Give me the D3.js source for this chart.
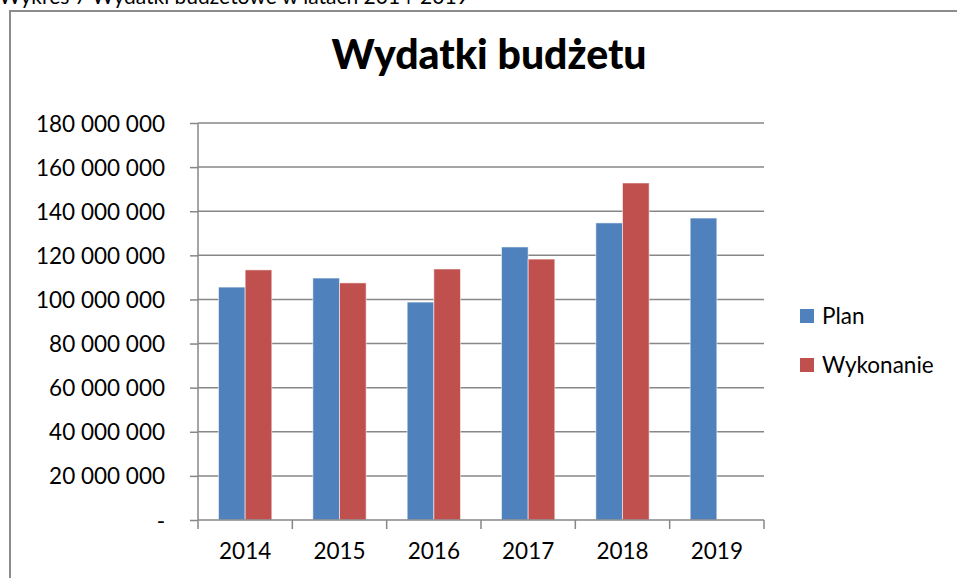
<!DOCTYPE html>
<html><head><meta charset="utf-8">
<script src="https://cdn.jsdelivr.net/npm/d3@7/dist/d3.min.js"></script>
<style>body{margin:0;background:#fff;}svg{display:block;font-family:Lato,"Open Sans",sans-serif;}</style>
</head><body>
<svg id="c" width="957" height="578"></svg>
<script>
const categories = ["2014","2015","2016","2017","2018","2019"];
const seriesNames = ["Plan","Wykonanie"];
const planValues = [105600000,109700000,98800000,123800000,134700000,136900000];
const wykonanieValues = [113400000,107500000,113800000,118300000,152800000,null];
const yTicks = [0,20000000,40000000,60000000,80000000,100000000,120000000,140000000,160000000,180000000];
const colors = ["#4F81BD","#C0504D"];

const svg = d3.select("#c");
const W = 957, H = 578;
const m = {left:198, right:957-764, top:123, bottom:578-520};

// caption (cut off at top, as in the reference)
svg.append("text").attr("x",-1).attr("y",4).attr("font-size",21).attr("fill","#000")
  .text("Wykres 7 Wydatki budżetowe w latach 2014-2019");
// frame
svg.append("rect").attr("x",10).attr("y",11).attr("width",1000).attr("height",700)
  .attr("fill","none").attr("stroke","#8c8c8c").attr("stroke-width",2);

const x = d3.scaleBand().domain(categories).range([m.left, W-m.right]).paddingInner(0).paddingOuter(0);
const x1 = d3.scaleBand().domain(seriesNames).range([0, x.bandwidth()]).paddingInner(0).paddingOuter(0.77);
const y = d3.scaleLinear().domain([0,180000000]).range([H-m.bottom, m.top]);

// gridlines
svg.append("g").selectAll("line").data(yTicks.slice(1)).join("line")
  .attr("x1",m.left).attr("x2",W-m.right).attr("y1",d=>y(d)).attr("y2",d=>y(d))
  .attr("stroke","#878787").attr("stroke-width",1.5);

// bars
const data = categories.map((c,i)=>({c, vals:[planValues[i], wykonanieValues[i]]}));
const g = svg.append("g");
data.forEach(d=>{
  d.vals.forEach((v,j)=>{
    if(v==null) return;
    g.append("rect")
      .attr("x", x(d.c)+x1(seriesNames[j]))
      .attr("y", y(v))
      .attr("width", x1.bandwidth())
      .attr("height", y(0)-y(v))
      .attr("fill", colors[j])
      .attr("stroke","rgba(255,255,255,0.55)").attr("stroke-width",1);
  });
});

// y axis
const fmt = v => v===0 ? "-" : d3.format(",")(v).replace(/,/g," ");
const ya = d3.axisLeft(y).tickValues(yTicks).tickFormat(fmt).tickSize(8).tickPadding(25);
const yg = svg.append("g").attr("transform",`translate(${m.left},0)`).call(ya);
yg.select(".domain").attr("stroke","#878787").attr("stroke-width",1.5).attr("d",`M0,${y(0)}V${y(180000000)}`);
yg.selectAll(".tick line").attr("stroke","#878787").attr("stroke-width",1.5);
yg.selectAll(".tick text").attr("font-size",22.5).attr("fill","#000").attr("font-family","Lato, 'Open Sans', sans-serif").attr("dy","0.36em");

// x axis
const xa = d3.axisBottom(x).tickSize(0).tickPadding(23);
const xg = svg.append("g").attr("transform",`translate(0,${y(0)})`).call(xa);
xg.select(".domain").attr("stroke","#878787").attr("stroke-width",1.5).attr("d",`M${m.left},0H${W-m.right}`);
xg.selectAll(".tick text").attr("font-size",22.5).attr("fill","#000").attr("font-family","Lato, 'Open Sans', sans-serif");
const bounds = categories.map(c=>x(c)).concat([W-m.right]);
xg.append("g").selectAll("line").data(bounds).join("line")
  .attr("x1",d=>d).attr("x2",d=>d).attr("y1",0).attr("y2",9)
  .attr("stroke","#878787").attr("stroke-width",1.5);

// title
svg.append("text").attr("x",489).attr("y",69).attr("text-anchor","middle")
  .attr("font-size",41).attr("font-weight",900).attr("fill","#000").text("Wydatki budżetu");

// legend
const lg = svg.append("g");
seriesNames.forEach((s,i)=>{
  const yy = 316 + i*49;
  lg.append("rect").attr("x",800).attr("y",yy-7).attr("width",14).attr("height",14).attr("fill",colors[i]);
  lg.append("text").attr("x",822).attr("y",yy).attr("dy","0.36em").attr("font-size",22.5).attr("fill","#000").text(s);
});
</script>
</body></html>
